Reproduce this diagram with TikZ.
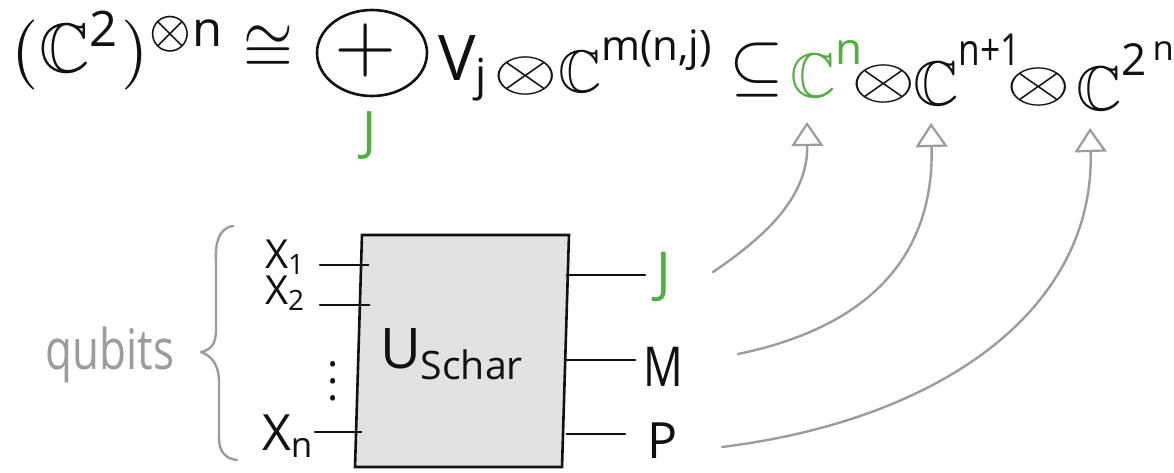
\documentclass[tikz,border=0pt]{standalone}
\usepackage{amsmath,amssymb}
\usepackage{fontspec}
\setmainfont{Open Sans}
\usetikzlibrary{arrows.meta,shapes.geometric}

\definecolor{ink}{HTML}{111111}
\definecolor{leaf}{HTML}{4FB040}
\definecolor{pencil}{HTML}{9C9C9C}
\definecolor{boxfill}{HTML}{E2E2E2}

% raised exponent set in the small text size
\newcommand{\raisedexp}[2][5.2pt]{\raisebox{#1}{\fontsize{7}{8}\selectfont #2}}

\begin{document}
\begin{tikzpicture}[x=1pt,y=-1pt,
  formula/.style={inner sep=0pt, outer sep=0pt, text=ink, anchor=base west},
  lbl/.style={inner sep=0pt, outer sep=0pt, text=ink},
  tensor/.style={inner sep=0pt, outer sep=0pt, text=ink, xscale=8.3, yscale=5.8},
  sumring/.style={ellipse, draw=ink, line width=2.6pt, minimum width=110pt,
    minimum height=86pt, inner sep=0pt},
  gatebox/.style={draw=ink, fill=boxfill, line width=2.6pt, minimum width=207pt,
    minimum height=232pt, inner sep=0pt, xslant=0.03},
  wire/.style={draw=ink, line width=2.6pt, line cap=round},
  mapsto/.style={draw=pencil, line width=2.4pt, line cap=round,
    -{Triangle[open, length=24pt, width=32pt, line width=2.2pt]}},
  bracket/.style={draw=pencil, line width=2.4pt, line cap=round, line join=round}
]
\fill[white] (0,0) rectangle (1174,472);
\useasboundingbox (0,0) rectangle (1174,472);

% ---- decomposition formula ----
\node[formula, scale=7] (lhs) at (12,72) {$(\mathbb{C}^{\text{2}})^{\otimes \text{n}}$};
\node[lbl, xscale=6.4, yscale=7] (iso) at (268,50) {$\cong$};
\node[sumring] (dsum) at (372,53) {};
\node[lbl, scale=8] (plus) at (366,50) {$+$};
\node[lbl, scale=5.3, text=leaf] (idx) at (370,136) {J};
\node[formula, scale=6.3] (vj) at (438,80) {V$_{\text{j}}$};
\node[tensor] (t1) at (526,76) {$\otimes$};
\node[formula, scale=6] (cm) at (558,92) {$\mathbb{C}$\raisedexp{m(n,j)}};
\node[lbl, scale=7] (incl) at (757,70) {$\subseteq$};
\node[formula, scale=6.3, text=leaf] (cn) at (790,97) {$\mathbb{C}$\raisedexp[5.1pt]{n}};
\node[tensor] (t2) at (884,84) {$\otimes$};
\node[formula, scale=6.3] (cn1) at (913,105)
  {$\mathbb{C}$\raisedexp[6.3pt]{\scalebox{0.8}[1]{n+1}}};
\node[tensor] (t3) at (1039,87) {$\otimes$};
\node[formula, scale=6.3] (c2n) at (1076,110)
  {$\mathbb{C}$\raisedexp[5.5pt]{2\raisebox{2.4pt}{\fontsize{5.5}{6}\selectfont\,n}}};

% ---- Schur transform gate ----
\node[gatebox] (U) at (462,351) {};
\node[lbl, scale=5.6, anchor=west] (uname) at (380,354) {U$_{\text{Schar}}$};

% inputs
\node[lbl, scale=4, anchor=base west] (x1) at (265,268) {X$_{\text{1}}$};
\node[lbl, scale=4, anchor=base west] (x2) at (265,304) {X$_{\text{2}}$};
\node[lbl, scale=4.2] (vd) at (333,369) {$\vdots$};
\node[lbl, scale=5, anchor=base west] (xn) at (262,450) {X$_{\text{n}}$};
\coordinate (w1) at (320,265);
\coordinate (w2) at (320,305);
\coordinate (wn) at (315,432);
\draw[wire] (w1) -- ([xshift=11pt]w1 -| U.west);
\draw[wire] (w2) -- ([xshift=12pt]w2 -| U.west);
\draw[wire] (wn) -- ([xshift=4pt]wn -| U.west);

% outputs
\node[lbl, scale=5.5, text=leaf] (lj) at (664,277) {J};
\node[lbl, xscale=4.4, yscale=5.5] (lm) at (663,367) {M};
\node[lbl, scale=5] (lp) at (663,441) {P};
\coordinate (oJ) at (645,275);
\coordinate (oM) at (635,360);
\coordinate (oP) at (625,434);
\draw[wire] (U.east |- oJ) -- (oJ);
\draw[wire] (U.east |- oM) -- (oM);
\draw[wire] (U.east |- oP) -- (oP);

% qubit register brace
\node[lbl, xscale=4.4, yscale=5.6, text=pencil] (qb) at (110,355) {qubits};
\draw[bracket] (233,226) .. controls (218,228) and (215,245) .. (216,262)
  -- (216,330) .. controls (216,345) and (210,350) .. (201,352)
  .. controls (212,356) and (219,365) .. (219,382)
  -- (219,438) .. controls (219,452) and (226,459) .. (237,460);

% outputs mapped onto the tensor factors
\coordinate (sJ) at (713,272);
\coordinate (hJ) at (807,122);
\coordinate (sM) at (738,354);
\coordinate (hM) at (931,123);
\coordinate (sP) at (722,447);
\coordinate (hP) at (1090,128);
\draw[mapsto] (sJ) .. controls (760,240) and (808,200) .. (hJ);
\draw[mapsto] (sM) .. controls (830,335) and (935,285) .. (hM);
\draw[mapsto] (sP) .. controls (940,420) and (1095,310) .. (hP);
\end{tikzpicture}
\end{document}
